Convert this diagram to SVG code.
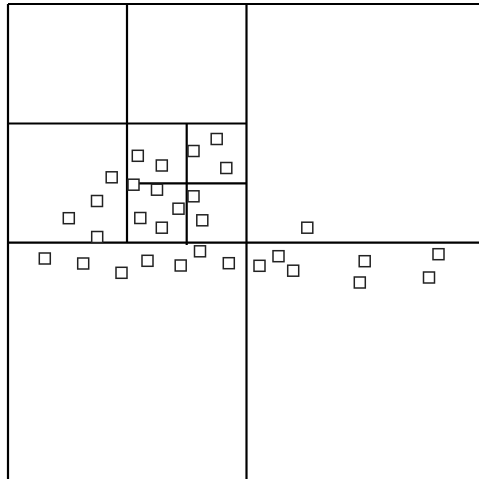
<svg xmlns="http://www.w3.org/2000/svg" width="479" height="479" viewBox="0 0 479 479">
<style>
.ln{stroke:#000;stroke-width:2.2;fill:none}
.pt{fill:#fff;stroke:#222;stroke-width:1.5}
</style>
<rect width="479" height="479" fill="#fff"/>
<g id="grid">
<line class="ln" x1="8" y1="4" x2="479" y2="4"/>
<line class="ln" x1="8" y1="4" x2="8" y2="479"/>
<line class="ln" x1="246.5" y1="4" x2="246.5" y2="479"/>
<line class="ln" x1="8" y1="242.7" x2="479" y2="242.7"/>
<line class="ln" x1="127" y1="4" x2="127" y2="242.7"/>
<line class="ln" x1="8" y1="123.5" x2="246.5" y2="123.5"/>
<line class="ln" x1="186.7" y1="123.5" x2="186.7" y2="245"/>
<line class="ln" x1="127" y1="183.3" x2="246.5" y2="183.3"/>
</g>
<g id="points">
<rect class="pt" x="132.3" y="150.3" width="11" height="11"/>
<rect class="pt" x="156.3" y="160" width="11" height="11"/>
<rect class="pt" x="188" y="145.5" width="11" height="11"/>
<rect class="pt" x="211.2" y="133.5" width="11" height="11"/>
<rect class="pt" x="220.8" y="162.5" width="11" height="11"/>
<rect class="pt" x="106.2" y="171.8" width="11" height="11"/>
<rect class="pt" x="128" y="179.2" width="11" height="11"/>
<rect class="pt" x="151.5" y="184.2" width="11" height="11"/>
<rect class="pt" x="188" y="190.8" width="11" height="11"/>
<rect class="pt" x="173" y="203.2" width="11" height="11"/>
<rect class="pt" x="134.8" y="212.5" width="11" height="11"/>
<rect class="pt" x="196.8" y="214.8" width="11" height="11"/>
<rect class="pt" x="156.3" y="222.2" width="11" height="11"/>
<rect class="pt" x="91.5" y="195.5" width="11" height="11"/>
<rect class="pt" x="63.3" y="212.7" width="11" height="11"/>
<rect class="pt" x="91.7" y="231.5" width="11" height="11"/>
<rect class="pt" x="39.3" y="253" width="11" height="11"/>
<rect class="pt" x="77.7" y="258" width="11" height="11"/>
<rect class="pt" x="116" y="267.3" width="11" height="11"/>
<rect class="pt" x="142" y="255.3" width="11" height="11"/>
<rect class="pt" x="175.2" y="260" width="11" height="11"/>
<rect class="pt" x="194.5" y="245.8" width="11" height="11"/>
<rect class="pt" x="223.3" y="257.7" width="11" height="11"/>
<rect class="pt" x="254" y="260.3" width="11" height="11"/>
<rect class="pt" x="273" y="250.7" width="11" height="11"/>
<rect class="pt" x="287.7" y="265.2" width="11" height="11"/>
<rect class="pt" x="301.8" y="222.2" width="11" height="11"/>
<rect class="pt" x="359.2" y="255.7" width="11" height="11"/>
<rect class="pt" x="354.3" y="277" width="11" height="11"/>
<rect class="pt" x="433" y="248.7" width="11" height="11"/>
<rect class="pt" x="423.5" y="272" width="11" height="11"/>
</g>
</svg>
